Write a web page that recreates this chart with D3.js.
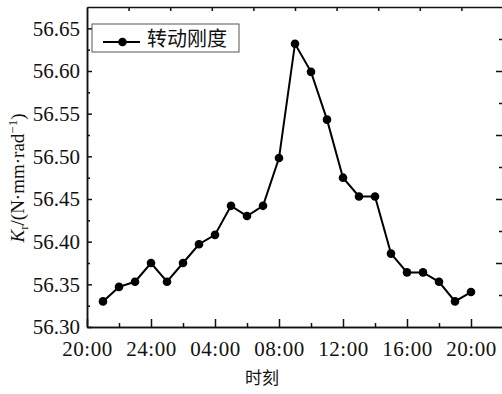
<!DOCTYPE html>
<html lang="zh">
<head>
    <meta charset="UTF-8">
    <title>转动刚度</title>
    <script src="https://d3js.org/d3.v7.min.js"></script>
    <style>
        body {
            margin: 0;
            background: #fff;
        }
        .axis path, .axis line {
            stroke: #111;
            stroke-width: 1.5;
        }
    </style>
</head>
<body>
    <svg width="502" height="394"></svg>

    <script>
        // hours after 20:00 of the first day
        const hours = [1, 2, 3, 4, 5, 6, 7, 8, 9, 10, 11, 12, 13, 14, 15, 16, 17, 18, 19, 20, 21, 22, 23, 24];
        const stiffness = [56.330, 56.347, 56.353, 56.375, 56.353, 56.375, 56.397, 56.408, 56.442, 56.430,
                           56.442, 56.498, 56.632, 56.599, 56.543, 56.475, 56.453, 56.453, 56.386, 56.364,
                           56.364, 56.353, 56.330, 56.341];
        const xTicks = [0, 4, 8, 12, 16, 20, 24];
        const xTickLabels = ["20:00", "24:00", "04:00", "08:00", "12:00", "16:00", "20:00"];
        const yTicks = [56.30, 56.35, 56.40, 56.45, 56.50, 56.55, 56.60, 56.65];
        const seriesName = "转动刚度";

        const serif = "Liberation Serif";
        const margin = {top: 7, left: 87};
        const width = 416, height = 320;

        const svg = d3.select("svg");
        const g = svg.append("g")
            .attr("transform", `translate(${margin.left},${margin.top})`);

        const x = d3.scaleLinear().domain([0, 26]).range([0, width]);
        const y = d3.scaleLinear().domain([56.30, 56.675]).range([height, 0]);

        // bottom axis: minor ticks then major ticks with labels
        g.append("g")
            .attr("class", "axis")
            .attr("transform", `translate(0,${height})`)
            .call(d3.axisBottom(x).tickValues([2, 6, 10, 14, 18, 22]).tickSize(-4).tickSizeOuter(0).tickFormat(""));
        g.append("g")
            .attr("class", "axis")
            .attr("transform", `translate(0,${height})`)
            .call(d3.axisBottom(x).tickValues(xTicks).tickSizeInner(-8).tickSizeOuter(0)
                .tickPadding(14).tickFormat((d, i) => xTickLabels[i]))
            .attr("font-family", serif)
            .attr("font-size", 21)
            .selectAll("text")
            .attr("letter-spacing", 0.5)
            .attr("fill", "#111");

        // left axis
        g.append("g")
            .attr("class", "axis")
            .call(d3.axisLeft(y).tickValues(d3.range(56.325, 56.675, 0.05)).tickSize(-3).tickSizeOuter(0).tickFormat(""));
        g.append("g")
            .attr("class", "axis")
            .call(d3.axisLeft(y).tickValues(yTicks).tickSizeInner(-5).tickSizeOuter(0)
                .tickPadding(7).tickFormat(d3.format(".2f")))
            .attr("font-family", serif)
            .attr("font-size", 21)
            .selectAll("text")
            .attr("fill", "#111");

        // top and right mirror ticks (no labels)
        const xTop = d3.scaleLinear().domain([0, 10]).range([0, width]);
        const yRight = d3.scaleLinear().domain([0, 10]).range([height, 0]);
        g.append("g")
            .attr("class", "axis")
            .call(d3.axisTop(xTop).tickValues(d3.range(1, 10)).tickSize(-4).tickSizeOuter(0).tickFormat(""));
        g.append("g")
            .attr("class", "axis")
            .attr("transform", `translate(${width},0)`)
            .call(d3.axisRight(yRight).tickValues(d3.range(1, 10))
                .tickSize(-4).tickSizeOuter(0).tickFormat(""))
            .selectAll(".tick line")
            .attr("x2", d => d % 2 === 0 ? -7 : -4);

        // series line and markers
        const line = d3.line()
            .x((d, i) => x(hours[i]))
            .y(d => y(d));
        g.append("path")
            .datum(stiffness)
            .attr("fill", "none")
            .attr("stroke", "#000")
            .attr("stroke-width", 2)
            .attr("d", line);
        g.selectAll(".dot")
            .data(stiffness)
            .enter()
            .append("circle")
            .attr("class", "dot")
            .attr("cx", (d, i) => x(hours[i]))
            .attr("cy", d => y(d))
            .attr("r", 4.3)
            .attr("fill", "#000");

        // legend
        const legend = svg.append("g").attr("transform", "translate(92,24)");
        legend.append("rect")
            .attr("width", 147).attr("height", 28)
            .attr("fill", "#fff").attr("stroke", "#555").attr("stroke-width", 1);
        legend.append("line")
            .attr("x1", 11).attr("x2", 48).attr("y1", 18).attr("y2", 18)
            .attr("stroke", "#000").attr("stroke-width", 2);
        legend.append("circle")
            .attr("cx", 30.5).attr("cy", 18).attr("r", 4.3).attr("fill", "#000");
        legend.append("text")
            .attr("x", 55).attr("y", 22)
            .attr("font-family", "Noto Sans CJK SC")
            .attr("font-size", 20)
            .attr("fill", "#111")
            .text(seriesName);

        // axis titles
        svg.append("text")
            .attr("x", 262).attr("y", 384)
            .attr("text-anchor", "middle")
            .attr("font-family", "Noto Sans CJK SC")
            .attr("font-size", 17)
            .attr("fill", "#111")
            .text("时刻");

        const yTitle = svg.append("text")
            .attr("transform", "translate(24,178) rotate(-90)")
            .attr("text-anchor", "middle")
            .attr("font-family", serif)
            .attr("font-size", 19)
            .attr("fill", "#111");
        yTitle.append("tspan").attr("font-style", "italic").text("K");
        yTitle.append("tspan").attr("dy", 4).attr("font-size", 13).text("r");
        yTitle.append("tspan").attr("dy", -4).text("/(N·mm·rad");
        yTitle.append("tspan").attr("dy", -7).attr("font-size", 13).text("−1");
        yTitle.append("tspan").attr("dy", 7).text(")");
    </script>
</body>
</html>
